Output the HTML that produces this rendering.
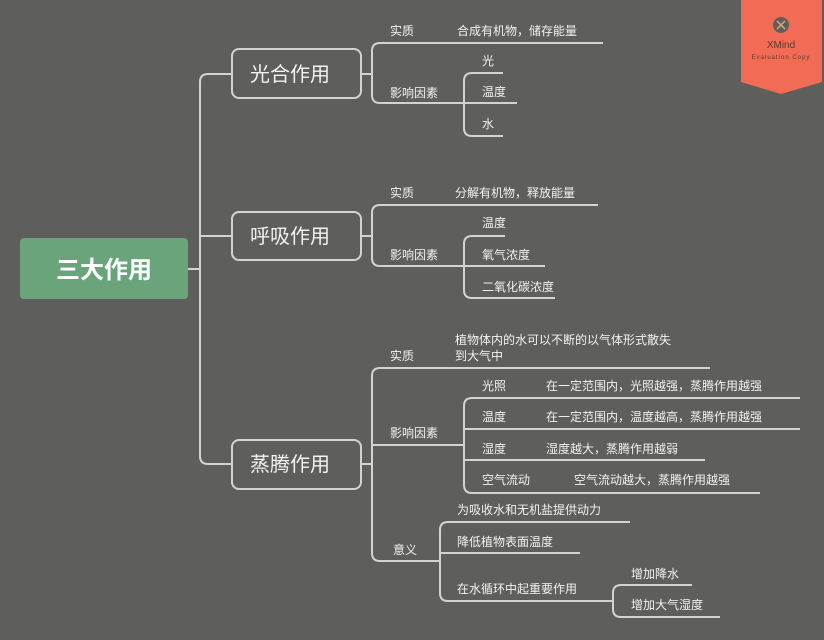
<!DOCTYPE html>
<html><head><meta charset="utf-8"><style>
html,body{margin:0;padding:0;background:#5e5f5c;}
svg{display:block}
text{font-family:"Liberation Sans","Noto Sans CJK SC",sans-serif;fill:#f2f2ee;font-size:12px}
.n{font-size:20px}
</style></head><body>
<svg width="824" height="640" viewBox="0 0 824 640" xmlns="http://www.w3.org/2000/svg">
<rect width="824" height="640" fill="#5e5f5c"/>
<g fill="none" stroke="#d4d4cf" stroke-width="2">
<!-- trunk -->
<path d="M188 269 H200"/>
<path d="M232 74 H208 Q200 74 200 82 V456 Q200 464 208 464 H232"/>
<path d="M200 236 H232"/>
<!-- 光合 -->
<path d="M361 74 H372"/>
<path d="M603 43 H380 Q372 43 372 51 V95 Q372 103 380 103 H517"/>
<path d="M503 73 H472 Q464 73 464 81 V128 Q464 136 472 136 H503"/>
<!-- 呼吸 -->
<path d="M361 236 H372"/>
<path d="M598 205 H380 Q372 205 372 213 V258 Q372 266 380 266 H545"/>
<path d="M505 236 H472 Q464 236 464 244 V290 Q464 298 472 298 H555"/>
<!-- 蒸腾 -->
<path d="M361 464 H372"/>
<path d="M710 368 H380 Q372 368 372 376 V553 Q372 561 380 561 H440"/>
<path d="M372 445 H464"/>
<path d="M800 398 H472 Q464 398 464 406 V485 Q464 493 472 493 H760"/>
<path d="M464 429 H800"/>
<path d="M464 460 H705"/>
<path d="M630 522 H448 Q440 522 440 530 V593 Q440 601 448 601 H613"/>
<path d="M440 553 H580"/>
<path d="M692 585 H621 Q613 585 613 593 V609 Q613 617 621 617 H720"/>
</g>
<rect x="20" y="238" width="168" height="61" rx="4" fill="#69a47b"/>
<text x="104" y="278" text-anchor="middle" style="font-size:24px;font-weight:bold;fill:#fff">三大作用</text>
<g fill="#5e5f5c" stroke="#d4d4cf" stroke-width="2">
<rect x="232" y="49" width="129" height="49" rx="7"/>
<rect x="232" y="212" width="129" height="48" rx="7"/>
<rect x="232" y="440" width="129" height="49" rx="7"/>
</g>
<text class="n" x="290" y="81" text-anchor="middle">光合作用</text>
<text class="n" x="290" y="243" text-anchor="middle">呼吸作用</text>
<text class="n" x="290" y="471" text-anchor="middle">蒸腾作用</text>

<text x="390" y="35">实质</text><text x="457" y="35">合成有机物，储存能量</text>
<text x="390" y="97">影响因素</text>
<text x="482" y="65">光</text><text x="482" y="96">温度</text><text x="482" y="128">水</text>

<text x="390" y="197">实质</text><text x="455" y="197">分解有机物，释放能量</text>
<text x="390" y="259">影响因素</text>
<text x="482" y="227">温度</text><text x="482" y="259">氧气浓度</text><text x="482" y="291">二氧化碳浓度</text>

<text x="455" y="344">植物体内的水可以不断的以气体形式散失</text>
<text x="455" y="360">到大气中</text>
<text x="390" y="360">实质</text>
<text x="390" y="437">影响因素</text>
<text x="482" y="390">光照</text><text x="546" y="390">在一定范围内，光照越强，蒸腾作用越强</text>
<text x="482" y="421">温度</text><text x="546" y="421">在一定范围内，温度越高，蒸腾作用越强</text>
<text x="482" y="453">湿度</text><text x="546" y="453">湿度越大，蒸腾作用越弱</text>
<text x="482" y="484">空气流动</text><text x="574" y="484">空气流动越大，蒸腾作用越强</text>
<text x="393" y="554">意义</text>
<text x="457" y="514">为吸收水和无机盐提供动力</text>
<text x="457" y="546">降低植物表面温度</text>
<text x="457" y="593">在水循环中起重要作用</text>
<text x="631" y="578">增加降水</text>
<text x="631" y="609">增加大气湿度</text>

<path d="M741 0 H822 V82 L781 94 L741 82 Z" fill="#f26b55"/>
<circle cx="781" cy="25" r="8" fill="#5e5f5c"/>
<path d="M777 21 L785 29 M785 21 L777 29" stroke="#e8a070" stroke-width="1.5"/>
<text x="781" y="48" text-anchor="middle" style="font-size:10px;fill:#5a3a30">XMind</text>
<text x="781" y="59" text-anchor="middle" style="font-size:6px;fill:#5a3a30;letter-spacing:1px">Evaluation Copy</text>
</svg>
</body></html>
